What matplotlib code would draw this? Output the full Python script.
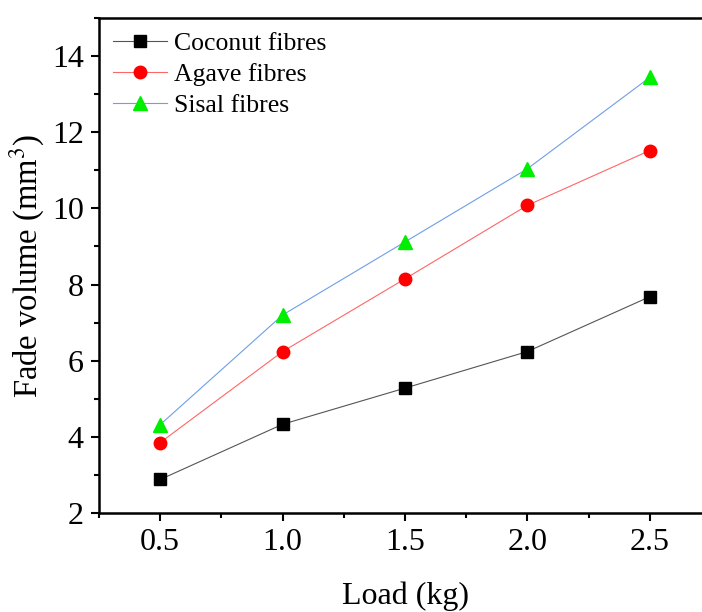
import numpy as np
import matplotlib.pyplot as plt
from matplotlib.ticker import MultipleLocator

# load (kg) and fade volume (mm3)
load = [0.5, 1.0, 1.5, 2.0, 2.5]
coconut = [2.88, 4.33, 5.28, 6.24, 7.68]
agave = [3.85, 6.24, 8.15, 10.08, 11.52]
sisal = [4.32, 7.20, 9.12, 11.04, 13.44]

plt.rcParams['font.family'] = ['Liberation Serif', 'DejaVu Serif']
plt.rcParams['mathtext.fontset'] = 'stix'

fig = plt.figure(figsize=(7.02, 6.12), dpi=100)
# right edge sits past the figure border, as in the cropped original
ax = fig.add_axes([99 / 702, (612 - 513) / 612, 612 / 702, 495 / 612])

ax.plot(load, coconut, color='#555555', lw=0.8, marker='s', ms=8,
        mfc='black', mec='black', label='Coconut fibres')
ax.plot(load, agave, color='#ff6666', lw=0.8, marker='o', ms=9,
        mfc='red', mec='red', label='Agave fibres')
ax.plot(load, sisal, color='#6f9ee8', lw=0.8, marker='^', ms=10,
        mfc='#00ee00', mec='#00ee00', label='Sisal fibres')

ax.set_xlim(0.25, 2.75)
ax.set_ylim(2, 15)
ax.xaxis.set_major_locator(MultipleLocator(0.5))
ax.xaxis.set_minor_locator(MultipleLocator(0.25))
ax.yaxis.set_major_locator(MultipleLocator(2))
ax.yaxis.set_minor_locator(MultipleLocator(1))
ax.set_xticks([0.5, 1.0, 1.5, 2.0, 2.5])
ax.set_xticklabels(['0.5', '1.0', '1.5', '2.0', '2.5'])

ax.tick_params(which='major', direction='out', length=5.5, width=1.5,
               labelsize=23, pad=5.5)
ax.tick_params(which='minor', direction='out', length=3.5, width=1.5)
for s in ax.spines.values():
    s.set_linewidth(1.8)

ax.set_xlabel('Load (kg)', fontsize=23)
ax.set_ylabel('Fade volume (mm$^3$)', fontsize=23.5)
ax.xaxis.set_label_coords(0.5, -0.138)
ax.yaxis.set_label_coords(-0.085, 0.5)

ax.legend(loc='upper left', frameon=False, fontsize=18.5,
          handlelength=2.1, labelspacing=0.3, borderaxespad=0.15,
          handletextpad=0.25, bbox_to_anchor=(0.0, 1.0))

fig.savefig('out.png', dpi=100)
